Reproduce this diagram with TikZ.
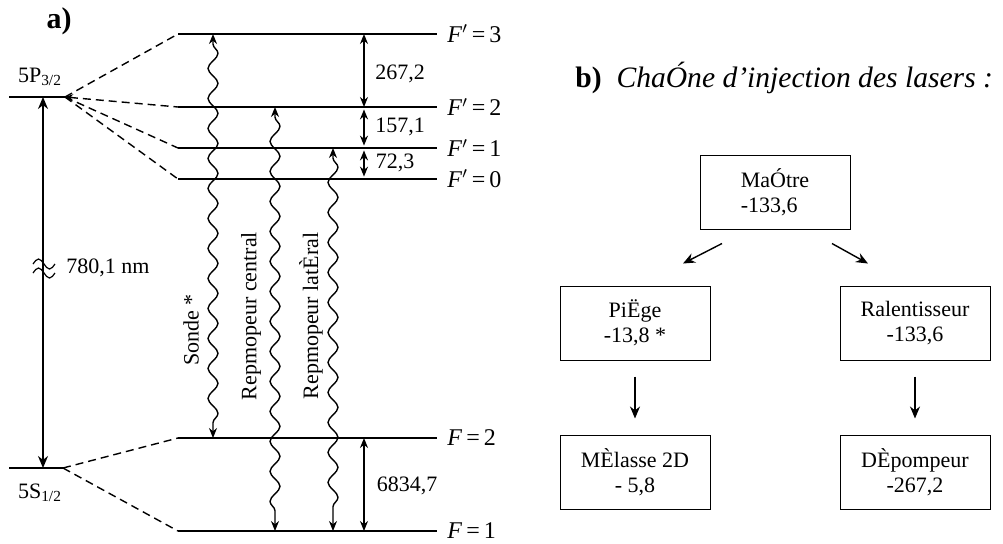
\documentclass[tikz,border=0pt]{standalone}
\usepackage{fontspec}
\setmainfont{Liberation Serif}
\usetikzlibrary{arrows.meta,decorations.pathmorphing,positioning}

\begin{document}
\begin{tikzpicture}[x=0.5pt, y=-0.5pt,
    level/.style={line width=1pt},
    split/.style={dash pattern=on 4pt off 2.5pt, line width=0.7pt},
    gap/.style={{Stealth[length=5pt,width=4pt]}-{Stealth[length=5pt,width=4pt]}, line width=0.7pt},
    photon/.style={decorate, decoration={snake, amplitude=2.5pt, segment length=15pt, pre length=5pt, post length=5pt}, line width=0.7pt, {Stealth[length=5pt,width=4pt]}-{Stealth[length=5pt,width=4pt]}},
    txt/.style={font=\fontsize{11}{13}\selectfont, inner sep=1pt},
    flab/.style={font=\fontsize{12}{14}\selectfont, anchor=west, inner sep=0pt},
    laser/.style={draw, line width=0.5pt, minimum width=75pt, minimum height=37pt, align=center, font=\fontsize{11}{12.5}\selectfont},
    arr/.style={-{Stealth[length=6pt,width=5pt]}, line width=0.7pt}]
    \useasboundingbox (0,0) rectangle (1003,543);

    % a) fine structure
    \node[font=\fontsize{15}{18}\selectfont\bfseries] (parta) at (59,21) {a)};

    % 5P and 5S levels
    \coordinate (Pl) at (9,97);
    \coordinate (Pr) at (65,97);
    \coordinate (Sl) at (9,468);
    \coordinate (Sr) at (63,468);
    \draw[level] (Pl) -- (Pr);
    \draw[level] (Sl) -- (Sr);
    \node[txt] (Plab) at (40,77) {5P\textsubscript{3/2}};
    \node[txt] (Slab) at (40,493) {5S\textsubscript{1/2}};

    % D2 line
    \draw[{Stealth[length=6pt,width=5pt]}-{Stealth[length=6pt,width=5pt]}, line width=0.8pt]
        ([xshift=17pt]Sl) -- ([xshift=17pt]Pl);
    \draw[line width=0.6pt] (33,264) sin (38.5,259) cos (44,264) sin (49.5,269) cos (55,264);
    \draw[line width=0.6pt] (33,273) sin (38.5,268) cos (44,273) sin (49.5,278) cos (55,273);
    \node[txt, anchor=west] (lambda) at (64,268) {780,1 nm};

    % F' levels
    \foreach \name/\y/\n in {Fa/34/3, Fb/107/2, Fc/148/1, Fd/179/0} {
        \coordinate (l\name) at (178,\y);
        \coordinate (r\name) at (437,\y);
        \draw[level] (l\name) -- (r\name);
        \node[flab] (t\name) at ([xshift=5pt]r\name) {\textit{F}$'$\,=\,\n};
    }
    \draw[split] (Pr) -- (lFa);
    \draw[split, {Stealth[length=4pt,width=3.5pt]}-] (Pr) -- (lFb);
    \draw[split] (Pr) -- (lFc);
    \draw[split] (Pr) -- (lFd);

    % F levels
    \foreach \name/\y/\n in {Ga/438/2, Gb/531/1} {
        \coordinate (l\name) at (178,\y);
        \coordinate (r\name) at (437,\y);
        \draw[level] (l\name) -- (r\name);
        \node[flab] (t\name) at ([xshift=5pt]r\name) {\textit{F}\,=\,\n};
        \draw[split] (Sr) -- (l\name);
    }

    % splittings
    \draw[gap] ([xshift=-36.5pt]rFa) -- ([xshift=-36.5pt]rFb);
    \draw[gap, shorten <=1.2pt, shorten >=1.2pt] ([xshift=-36.5pt]rFb) -- ([xshift=-36.5pt]rFc);
    \draw[gap, shorten <=1.2pt, shorten >=1.2pt] ([xshift=-36.5pt]rFc) -- ([xshift=-36.5pt]rFd);
    \draw[gap] ([xshift=-36.5pt]rGa) -- ([xshift=-36.5pt]rGb);
    \node[txt] (d32) at (400,74) {267,2};
    \node[txt] (d21) at (400,127) {157,1};
    \node[txt] (d10) at (395,163) {72,3};
    \node[txt] (d12) at (407,486) {6834,7};

    % lasers
    \draw[photon] ([xshift=17.5pt]lFa) -- ([xshift=17.5pt]lGa);
    \draw[photon] ([xshift=48.5pt]lFb) -- ([xshift=48.5pt]lGb);
    \draw[photon] ([xshift=77.5pt]lFc) -- ([xshift=77.5pt]lGb);
    \node[txt, rotate=90] (sonde) at (191,330) {Sonde *};
    \node[txt, rotate=90] (central) at (251,316) {Repmopeur central};
    \node[txt, rotate=90] (lateral) at (311,316) {Repmopeur latÈral};

    % b) injection chain
    \node[anchor=base west, inner sep=0pt, font=\fontsize{14.8}{18}\selectfont] (partb) at (575,87)
        {\textbf{b)}\enspace\textit{ChaÓne d\char39 injection des lasers :}};
    \node[laser, align=left] (maitre) at (775,192) {MaÓtre\\-133,6};
    \node[laser] (piege) at (635,323) {PiËge\\-13,8 *};
    \node[laser] (ralent) at (915,323) {Ralentisseur\\-133,6};
    \node[laser] (melasse) at (635,472) {MÈlasse 2D\\- 5,8};
    \node[laser] (depomp) at (915,472) {DÈpompeur\\-267,2};

    % arrows
    \coordinate (m1) at ([shift={(-53,14)}]maitre.south);
    \coordinate (m2) at ([shift={(-92,34)}]maitre.south);
    \coordinate (m3) at ([shift={(57,14)}]maitre.south);
    \coordinate (m4) at ([shift={(93,34)}]maitre.south);
    \draw[arr] (m1) -- (m2);
    \draw[arr] (m3) -- (m4);
    \draw[arr, shorten <=8pt, shorten >=8pt] (piege) -- (melasse);
    \draw[arr, shorten <=8pt, shorten >=8pt] (ralent) -- (depomp);
\end{tikzpicture}
\end{document}
